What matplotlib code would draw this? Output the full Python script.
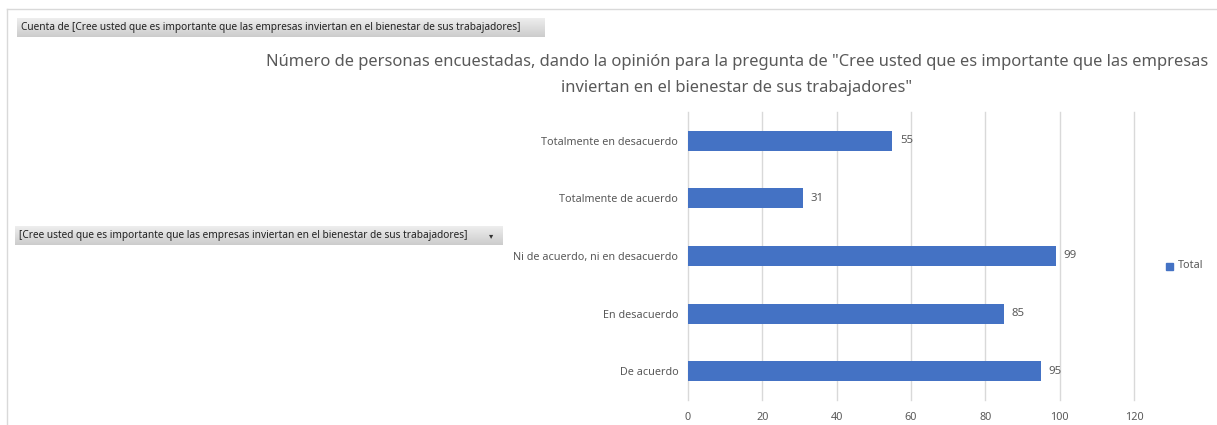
import matplotlib
matplotlib.use("Agg")
from matplotlib import pyplot as plt
from matplotlib.patches import Rectangle
import numpy as np

categorias = ["De acuerdo", "En desacuerdo", "Ni de acuerdo, ni en desacuerdo",
              "Totalmente de acuerdo", "Totalmente en desacuerdo"]
conteo = [95, 85, 99, 31, 55]
ticks_x = [0, 20, 40, 60, 80, 100, 120]

titulo = ('Número de personas encuestadas, dando la opinión para la pregunta de "Cree usted que es importante que las empresas\n'
          'inviertan en el bienestar de sus trabajadores"')
campo = "Cuenta de [Cree usted que es importante que las empresas inviertan en el bienestar de sus trabajadores]"
fila = "[Cree usted que es importante que las empresas inviertan en el bienestar de sus trabajadores]"

azul = "#4472C4"
gris_txt = "#595959"

W, H = 1217, 425
plt.rcParams["font.family"] = ["Noto Sans", "DejaVu Sans"]
fig = plt.figure(figsize=(W / 100, H / 100), dpi=100)

# marco exterior
fig.add_artist(plt.Line2D([7 / W, 7 / W], [0, 1 - 9 / H], color="#D9D9D9", lw=1))
fig.add_artist(plt.Line2D([7 / W, 1], [1 - 9 / H, 1 - 9 / H], color="#D9D9D9", lw=1))


def boton(x0, y0, x1, y1, texto, flecha=False):
    # boton gris de tabla dinamica con degradado
    grad = np.linspace(0.93, 0.80, 50).reshape(-1, 1)
    bax = fig.add_axes([x0 / W, 1 - y1 / H, (x1 - x0) / W, (y1 - y0) / H])
    bax.imshow(grad, cmap="gray", vmin=0, vmax=1, aspect="auto", extent=[0, 1, 0, 1])
    bax.set_xlim(0, 1)
    bax.set_ylim(0, 1)
    bax.axis("off")
    bax.text(4 / (x1 - x0), 0.5, texto, fontsize=7.3, va="center", ha="left", color="#222222")
    if flecha:
        bax.text(1 - 12 / (x1 - x0), 0.5, "▾", fontsize=6, va="center", ha="center",
                 color="#333333", family="DejaVu Sans")


boton(17, 18, 545, 37, campo)
boton(15, 226, 503, 245, fila, flecha=True)

ax = fig.add_axes([688 / W, 1 - 400 / H, (1134 - 688) / W, (400 - 112) / H])
y = np.arange(len(categorias))
ax.barh(y, conteo, height=0.35, color=azul, zorder=3)
for yi, v in zip(y, conteo):
    ax.text(v + 2, yi, str(v), va="center", ha="left", fontsize=8.2, color=gris_txt)

ax.set_xlim(0, 120)
ax.set_ylim(-0.5, len(categorias) - 0.5)
ax.set_xticks(ticks_x)
ax.set_yticks(y)
ax.set_yticklabels(categorias)
ax.grid(axis="x", color="#D9D9D9", lw=1, zorder=0)
for g in ax.get_xgridlines():
    g.set_clip_on(False)
for s in ax.spines.values():
    s.set_visible(False)
ax.tick_params(axis="both", length=0, labelsize=7.8, colors=gris_txt)
ax.tick_params(axis="x", pad=9)
ax.tick_params(axis="y", pad=7)

fig.text(737 / W, 1 - 75 / H, titulo, ha="center", va="center", fontsize=11.9,
         color=gris_txt, linespacing=1.82)

# leyenda
fig.add_artist(Rectangle((1166 / W, 1 - 270 / H), 7 / W, 7 / H, color=azul))
fig.text(1178 / W, 1 - 266 / H, "Total", fontsize=7.8, color=gris_txt, va="center", ha="left")

fig.savefig("out.png", dpi=100)
